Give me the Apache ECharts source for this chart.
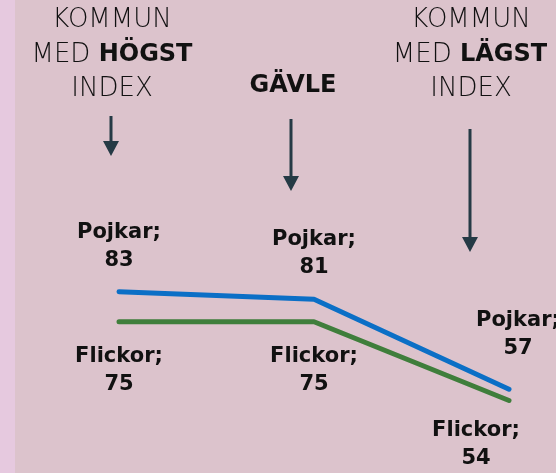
<!DOCTYPE html>
<html>
<head>
<meta charset="utf-8">
<script src="https://cdn.jsdelivr.net/npm/echarts@6/dist/echarts.min.js"></script>
<style>
    html, body { margin: 0; padding: 0; }
    #chart {
        width: 556px;
        height: 473px;
        background: linear-gradient(to right, #e6c9df 0, #e6c9df 15px, #dcc3cc 15px, #dcc3cc 100%);
    }
</style>
</head>
<body>
<div id="chart"></div>
<script>
    // kommuner: högst index, Gävle, lägst index
    const kategorier = ['Högst', 'Gävle', 'Lägst'];
    const pojkar = [83, 81, 57];
    const flickor = [75, 75, 54];

    // label offsets per punkt (px)
    const pojkarOffset = [[0, 0], [0, 0], [9, -9]];
    const flickorOffset = [[0, 0], [0, 0], [-33, -4]];

    const textFont = "'DejaVu Sans', 'Noto Sans', sans-serif";
    const mork = '#253a45';

    let myChart = echarts.init(document.getElementById('chart'));

    function rubrik(x, y, rich) {
        return {
            type: 'text',
            x: x,
            y: y,
            style: {
                text: rich,
                align: 'center',
                verticalAlign: 'middle',
                fill: '#111',
                fontFamily: textFont,
                fontSize: 26,
                fontWeight: 200,
                rich: {
                    l: { fontSize: 26, fontWeight: 200, fontFamily: textFont, fill: '#111' },
                    b: { fontSize: 24, fontWeight: 'bold', fontFamily: textFont, fill: '#111' }
                }
            }
        };
    }

    function pil(x, y1, y2) {
        return [
            { type: 'line', shape: { x1: x, y1: y1, x2: x, y2: y2 - 12 }, style: { stroke: mork, lineWidth: 3 } },
            { type: 'polygon', shape: { points: [[x - 8, y2 - 15], [x + 8, y2 - 15], [x, y2]] }, style: { fill: mork } }
        ];
    }

    function punkter(values, offsets) {
        return values.map((v, i) => ({
            value: v,
            label: { offset: offsets[i] }
        }));
    }

    function etikett(pos, dist) {
        return {
            show: true,
            position: pos,
            distance: dist,
            formatter: p => p.seriesName + ';\n' + p.value,
            color: '#111',
            fontFamily: textFont,
            fontSize: 21,
            fontWeight: 600,
            lineHeight: 28,
            align: 'center'
        };
    }

    var option = {
        backgroundColor: 'transparent',
        animation: false,
        grid: {
            left: 119,
            right: 47,
            top: 228,
            height: 225
        },
        xAxis: {
            type: 'category',
            data: kategorier,
            boundaryGap: false,
            show: false
        },
        yAxis: {
            type: 'value',
            min: 40,
            max: 100,
            show: false
        },
        graphic: [
            rubrik(112, 20, '{l|KOMMUN}'),
            rubrik(112, 55, '{l|MED }{b|HÖGST}'),
            rubrik(112, 89, '{l|INDEX}'),
            rubrik(293, 86, '{b|GÄVLE}'),
            rubrik(471, 20, '{l|KOMMUN}'),
            rubrik(470, 55, '{l|MED }{b|LÄGST}'),
            rubrik(471, 89, '{l|INDEX}')
        ].concat(pil(111, 116, 156), pil(291, 119, 191), pil(470, 129, 252)),
        series: [
            {
                name: 'Pojkar',
                type: 'line',
                data: punkter(pojkar, pojkarOffset),
                symbol: 'circle',
                symbolSize: 1,
                showSymbol: true,
                itemStyle: { color: 'rgba(0,0,0,0)' },
                lineStyle: { color: '#0b6fc6', width: 5, cap: 'round', join: 'round' },
                label: etikett('top', 17)
            },
            {
                name: 'Flickor',
                type: 'line',
                data: punkter(flickor, flickorOffset),
                symbol: 'circle',
                symbolSize: 1,
                showSymbol: true,
                itemStyle: { color: 'rgba(0,0,0,0)' },
                lineStyle: { color: '#3f7e3b', width: 5, cap: 'round', join: 'round' },
                label: etikett('bottom', 20)
            }
        ]
    };
    myChart.setOption(option);
</script>
</body>
</html>
